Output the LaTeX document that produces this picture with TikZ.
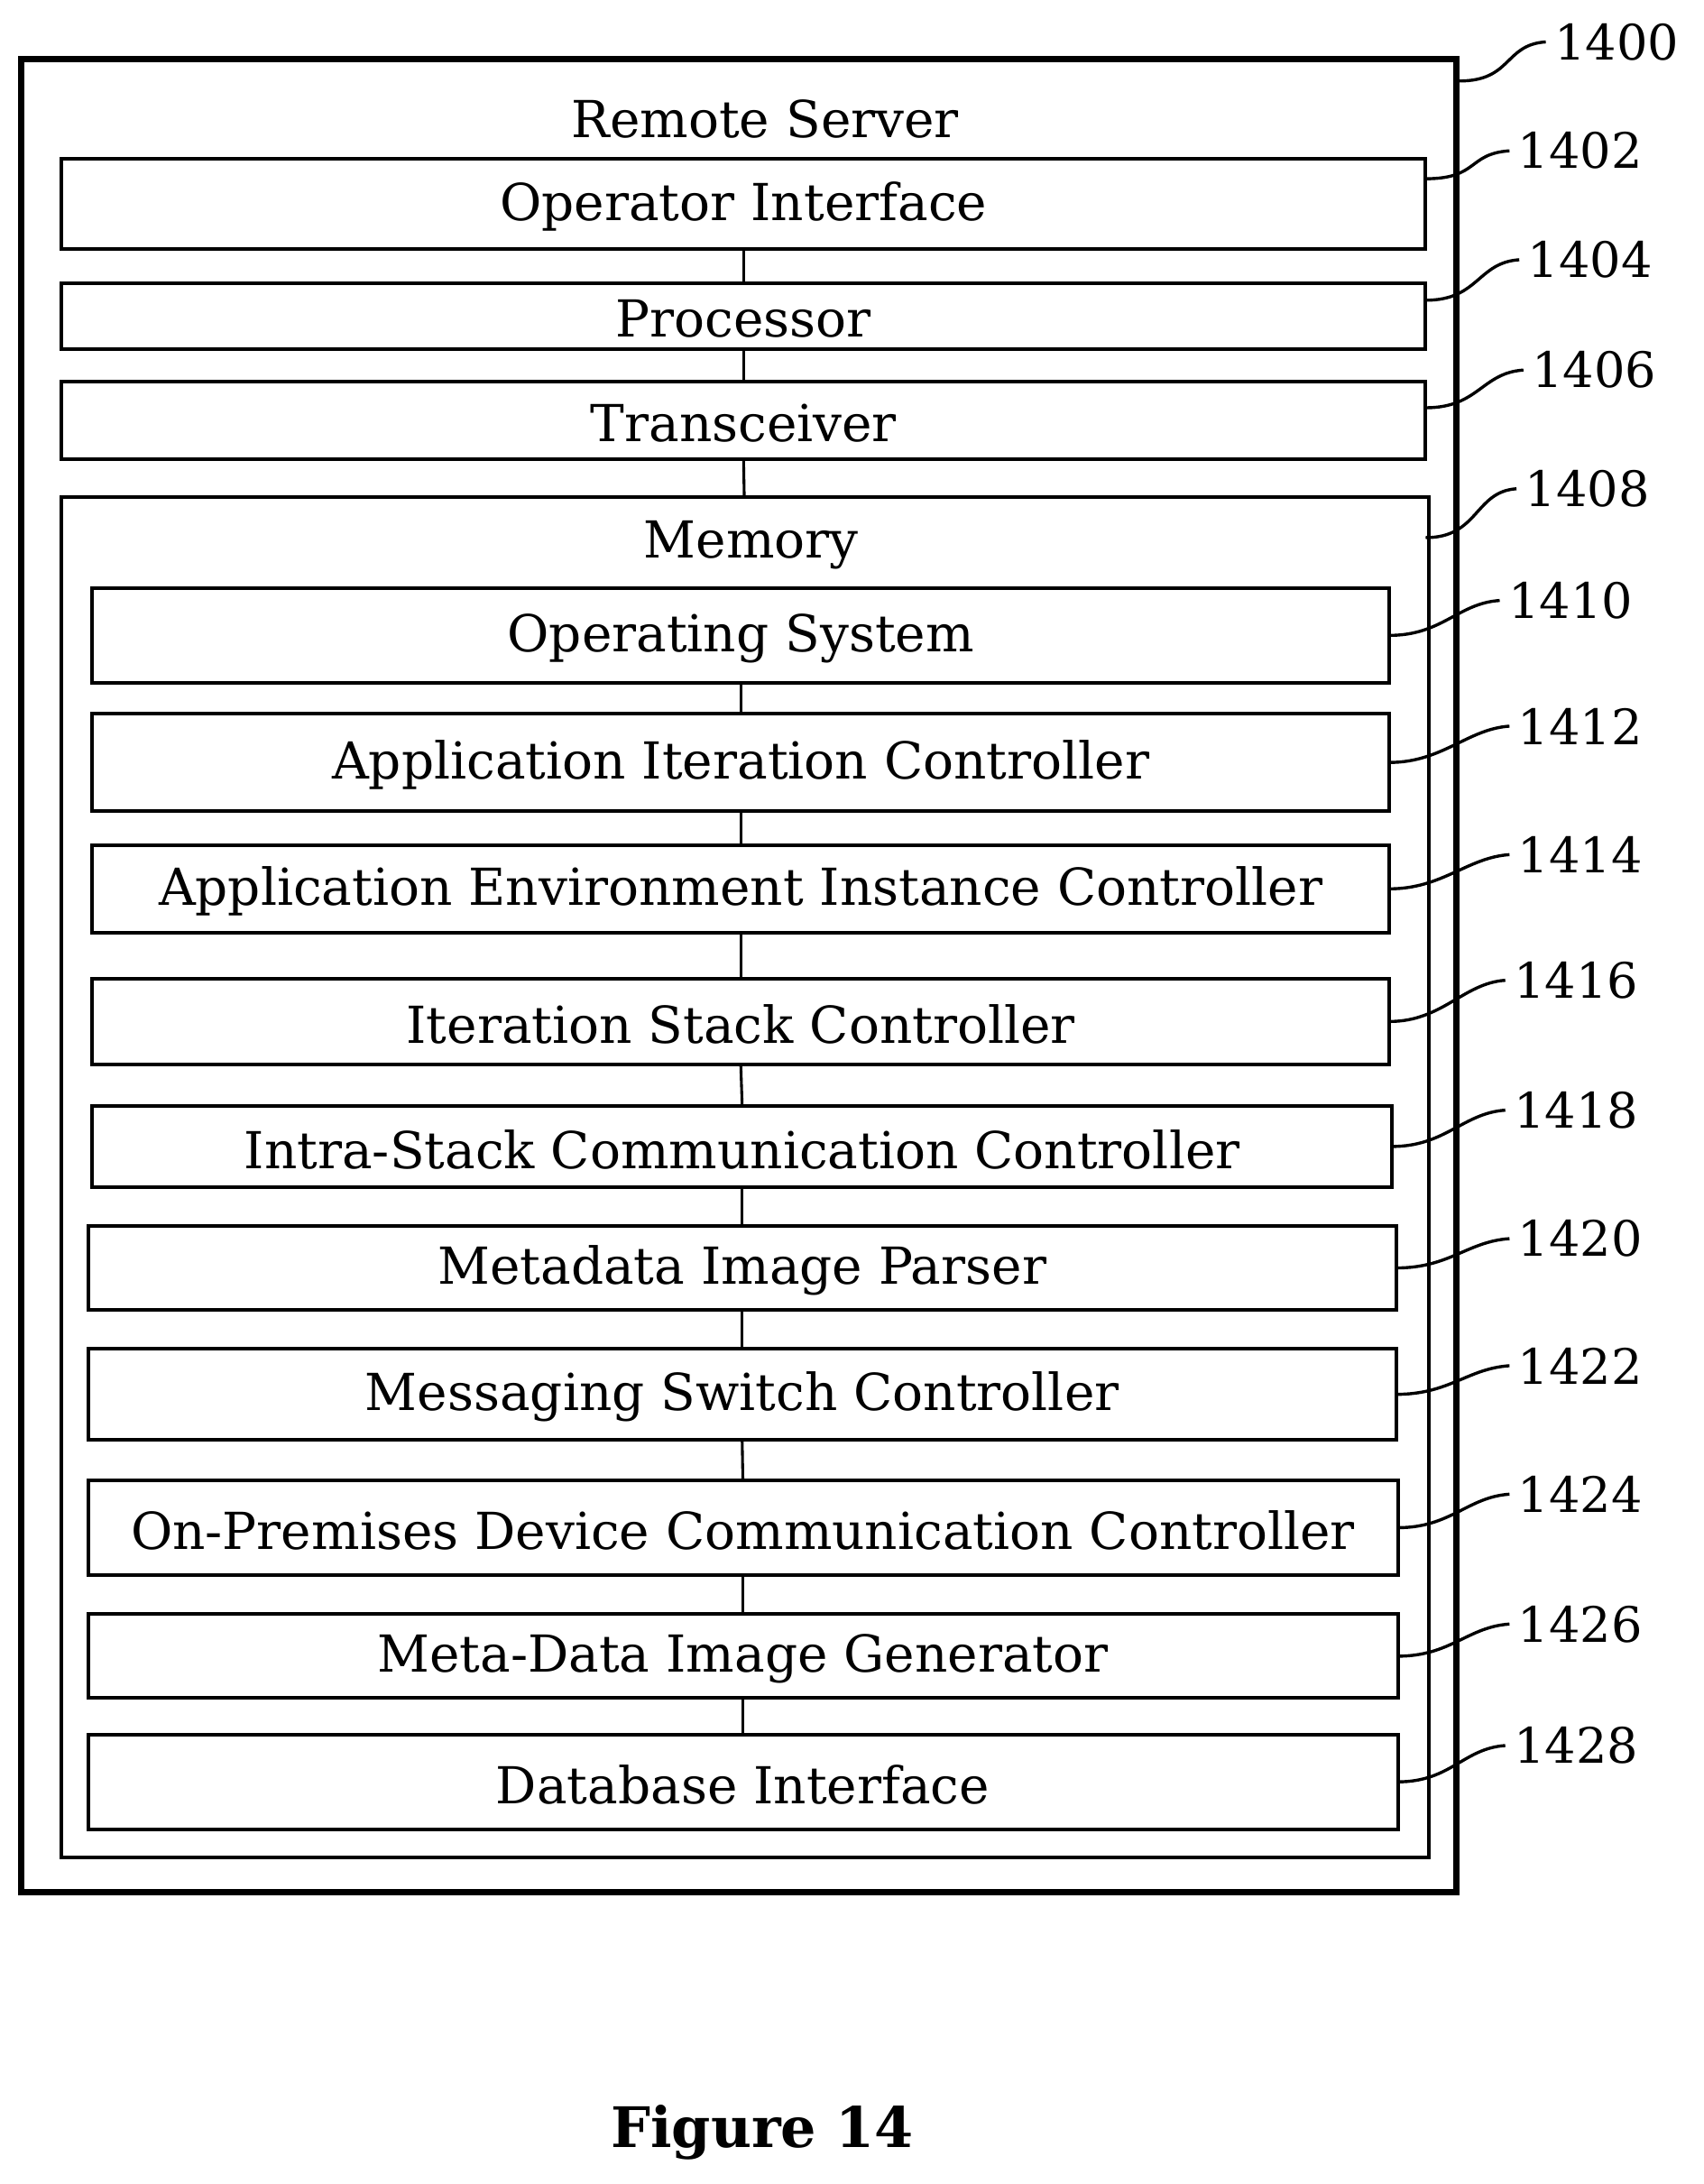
\documentclass[tikz,border=0pt]{standalone}
\usepackage{fontspec}
\setmainfont{DejaVu Serif}
\begin{document}
\begin{tikzpicture}[x=1pt,y=-1pt,
 box/.style={draw,line width=2.6pt,inner sep=0pt},
 lbl/.style={anchor=west,inner sep=0pt,font=\fontsize{35}{38}\selectfont},
 lead/.style={line width=2.2pt},
 conn/.style={line width=2pt},
 txt/.style={font=\fontsize{36.5}{40}\selectfont}]
\useasboundingbox (0,0) rectangle (1220,1564);
\draw[line width=4.5pt] (15,42) rectangle (1043,1355);
\node[txt] (rs) at (548,85) {Remote Server};
\newcommand{\bx}[6]{\draw[box] (#2,#3) rectangle (#4,#5); \coordinate (#1) at ({(#2+#4)/2},{(#3+#5)/2});
 \coordinate (#1t) at ({(#2+#4)/2},#3); \coordinate (#1b) at ({(#2+#4)/2},#5); \coordinate (#1e) at (#4,{(#3+#5)/2});
 \node[txt] (#1n) at ({(#2+#4)/2},{(#3+#5)/2+2}) {#6};}
\bx{a}{44}{114}{1021}{178}{Operator Interface}
\bx{b}{44}{203}{1021}{250}{Processor}
\bx{c}{44}{273}{1021}{329}{Transceiver}
\draw[box] (44,356) rectangle (1023,1330); \coordinate (memt) at (533,356); \coordinate (meme) at (1021,385);
\node[txt] (mem) at (538,390) {Memory};
\bx{d}{66}{421}{995}{489}{Operating System}
\bx{e}{66}{511}{995}{581}{Application Iteration Controller}
\bx{f}{66}{605}{995}{668}{Application Environment Instance Controller}
\bx{g}{66}{701}{995}{762}{Iteration Stack Controller}
\bx{h}{66}{792}{997}{850}{Intra-Stack Communication Controller}
\bx{i}{63}{878}{1000}{938}{Metadata Image Parser}
\bx{j}{63}{966}{1000}{1031}{Messaging Switch Controller}
\bx{k}{63}{1060}{1001}{1128}{On-Premises Device Communication Controller}
\bx{l}{63}{1156}{1001}{1216}{Meta-Data Image Generator}
\bx{m}{63}{1242}{1001}{1310}{Database Interface}
\draw[conn] (ab) -- (bt); \draw[conn] (bb) -- (ct); \draw[conn] (cb) -- (memt);
\foreach \p/\q in {d/e,e/f,f/g,g/h,h/i,i/j,j/k,k/l,l/m} \draw[conn] (\p b) -- (\q t);
\coordinate (oe) at (1045,58);
\node[lbl] (n1400) at (1113,30) {1400};
\node[lbl] (n1402) at (1087,108) {1402};
\node[lbl] (n1404) at (1094,186) {1404};
\node[lbl] (n1406) at (1097,265) {1406};
\node[lbl] (n1408) at (1092,350) {1408};
\node[lbl] (n1410) at (1080,430) {1410};
\node[lbl] (n1412) at (1087,520) {1412};
\node[lbl] (n1414) at (1087,612) {1414};
\node[lbl] (n1416) at (1084,702) {1416};
\node[lbl] (n1418) at (1084,795) {1418};
\node[lbl] (n1420) at (1087,887) {1420};
\node[lbl] (n1422) at (1087,978) {1422};
\node[lbl] (n1424) at (1087,1070) {1424};
\node[lbl] (n1426) at (1087,1163) {1426};
\node[lbl] (n1428) at (1084,1250) {1428};
\coordinate (ae) at (1021,128); \coordinate (be) at (1021,215); \coordinate (ce) at (1021,292);
\foreach \s/\t in {oe/n1400,ae/n1402,be/n1404,ce/n1406,meme/n1408,de/n1410,ee/n1412,fe/n1414,ge/n1416,he/n1418,ie/n1420,je/n1422,ke/n1424,le/n1426,me/n1428}
 \draw[lead] (\s) .. controls ++(38,0) and ++(-30,2) .. ([xshift=-6pt]\t.west);
\node[font=\bfseries\fontsize{40}{44}\selectfont] (fig) at (546,1527) {Figure 14};
\end{tikzpicture}
\end{document}
